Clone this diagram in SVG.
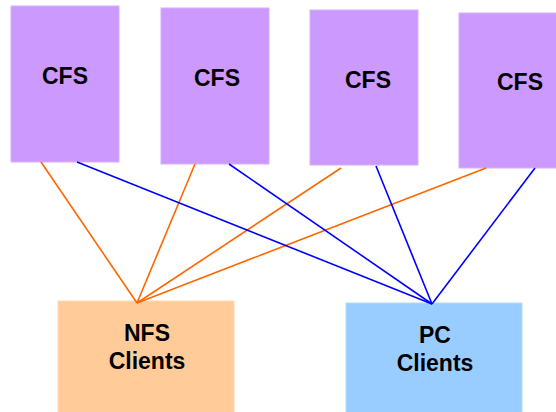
<svg xmlns="http://www.w3.org/2000/svg" width="556" height="412" viewBox="0 0 556 412">
<style>
.cfs{fill:#CC99FF;stroke:#D6B0FF;stroke-width:1}
.nfs{fill:#FFCC99;stroke:#FFD9B3;stroke-width:1}
.pc{fill:#99CCFF;stroke:#B3D9FF;stroke-width:1}
.t{font-family:"Liberation Sans",Arial,sans-serif;font-weight:bold;font-size:23px;fill:#000;text-anchor:middle}
.o{stroke:#FF6600;stroke-width:1.6;fill:none}
.b{stroke:#0000FF;stroke-width:1.6;fill:none}
</style>
<rect width="556" height="412" fill="#fff"/>
<g id="cfs1"><rect class="cfs" x="11" y="6" width="108" height="156"/><text class="t" x="65" y="84">CFS</text></g>
<g id="cfs2"><rect class="cfs" x="161" y="8" width="108" height="156"/><text class="t" x="217" y="86">CFS</text></g>
<g id="cfs3"><rect class="cfs" x="310" y="10" width="108" height="155"/><text class="t" x="368" y="88">CFS</text></g>
<g id="cfs4"><rect class="cfs" x="459" y="13" width="108" height="155"/><text class="t" x="520" y="90">CFS</text></g>
<g id="nfs"><rect class="nfs" x="58" y="301" width="176" height="115"/><text class="t" x="147" y="341">NFS</text><text class="t" x="147" y="369">Clients</text></g>
<g id="pc"><rect class="pc" x="346" y="303" width="176" height="115"/><text class="t" x="435" y="343">PC</text><text class="t" x="435" y="371">Clients</text></g>
<g id="connectors">
<line class="o" x1="41" y1="162" x2="137" y2="303"/>
<line class="o" x1="195" y1="164" x2="137" y2="303"/>
<line class="o" x1="341" y1="168" x2="137" y2="303"/>
<line class="o" x1="486" y1="168" x2="137" y2="303"/>
<line class="b" x1="77" y1="162" x2="432" y2="304"/>
<line class="b" x1="229" y1="164" x2="432" y2="304"/>
<line class="b" x1="376" y1="166" x2="432" y2="304"/>
<line class="b" x1="535" y1="168" x2="432" y2="304"/>
</g>
</svg>
